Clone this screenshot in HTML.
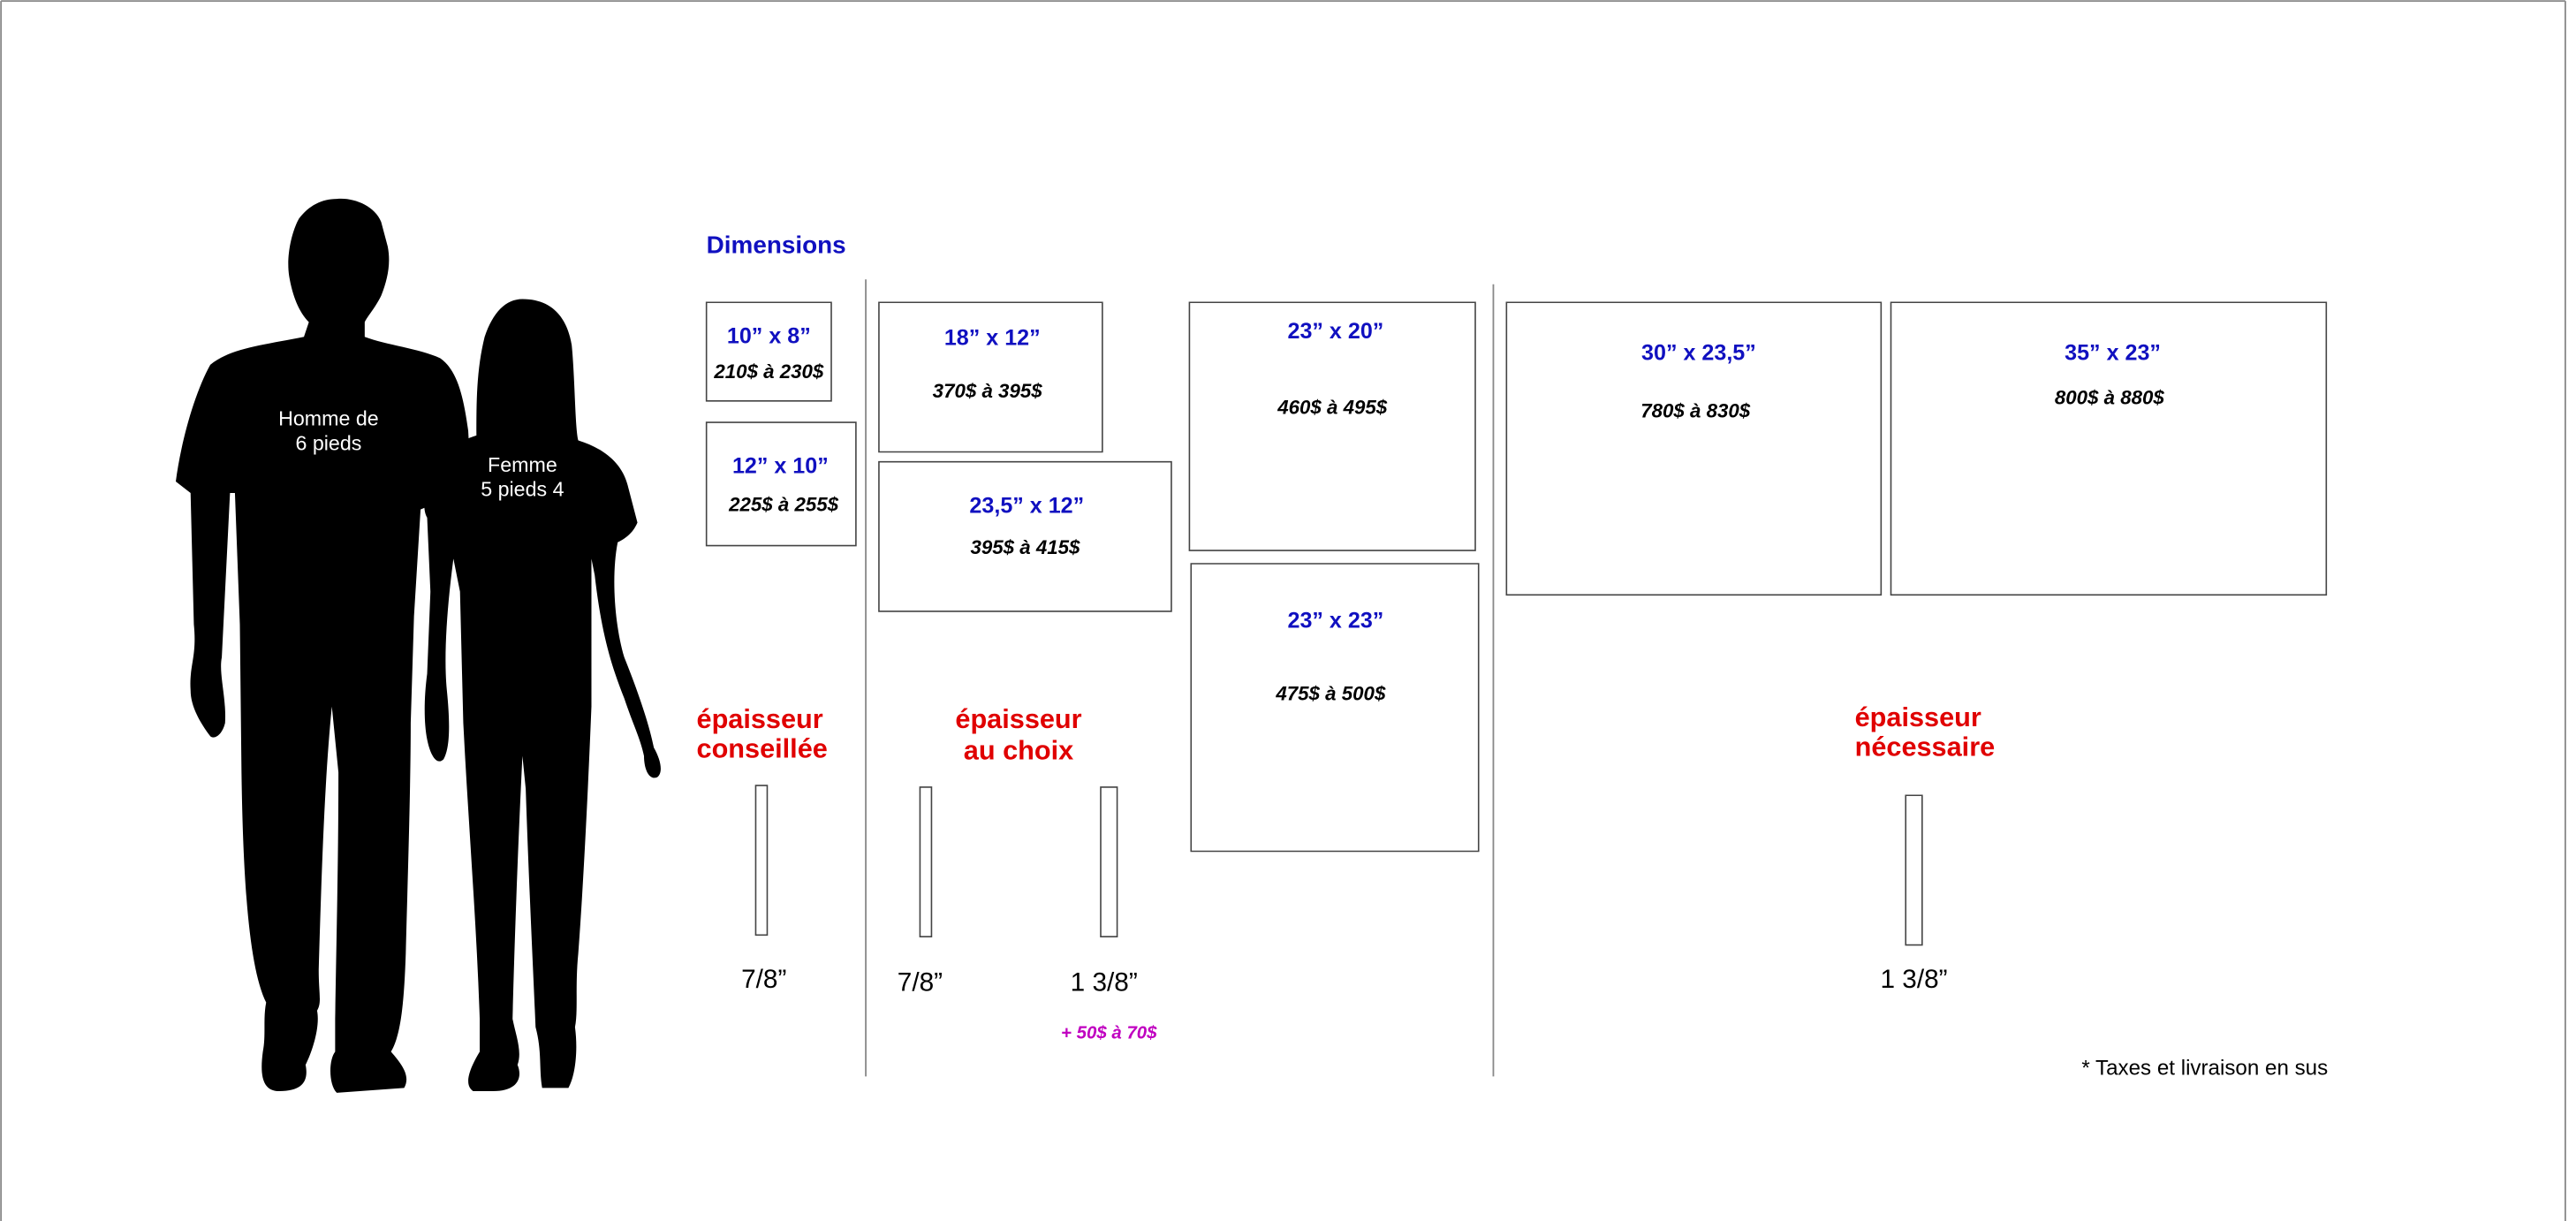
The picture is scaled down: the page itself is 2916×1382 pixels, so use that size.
<!DOCTYPE html>
<html><head><meta charset="utf-8"><style>
html,body{margin:0;padding:0;background:#fff;}
svg{display:block;}
text{font-family:"Liberation Sans",Arial,sans-serif;}
.d{fill:#1010c0;font-weight:bold;font-size:13.5px;text-anchor:middle;}
.p{fill:#000;font-weight:bold;font-style:italic;font-size:12px;text-anchor:middle;}
.r{fill:#e00000;font-weight:bold;font-size:16.5px;}
.f{fill:#000;font-size:16px;text-anchor:middle;}
.w{fill:#fff;font-size:12.5px;text-anchor:middle;}
.b{fill:#fff;stroke:#444;stroke-width:1.6;vector-effect:non-scaling-stroke;}
.l{stroke:#888;stroke-width:1.8;vector-effect:non-scaling-stroke;}
</style></head><body>
<svg width="2916" height="1382" viewBox="0 0 1568 743" preserveAspectRatio="none" xmlns="http://www.w3.org/2000/svg">
<rect x="0" y="0" width="1568" height="743" fill="#fff"/>
<line class="l" x1="0.6" y1="0.6" x2="1561.5" y2="0.6"/>
<line class="l" x1="0.6" y1="0.6" x2="0.6" y2="743"/>
<line class="l" x1="1561.5" y1="0.6" x2="1561.5" y2="743"/>

<!-- man -->
<path fill="#000" d="M205,121 C215,120 228,125 232,135 L236,150 C238,160 236,170 232,180 C228,188 224,192 222,196 L222,205 C235,210 255,212 268,218 C278,225 282,240 285,262 L287,300 L280,300 L256,310 L252,375 L250,440 C250,480 248,540 247,580 C246,610 244,630 238,640 C245,648 250,655 246,662 L205,665 C200,660 200,645 204,640 L204,620 C205,560 206,520 206,470 L202,430 C198,470 196,520 194,590 C194,605 196,610 193,615 C195,625 190,640 186,648 C188,658 184,664 170,664 C160,664 158,655 160,640 C162,630 160,620 162,610 C152,590 148,540 147,470 L146,380 L143,300 L140,300 L138,340 L135,400 C133,410 138,425 137,440 C135,448 130,450 128,448 C122,440 116,430 116,420 C115,405 120,400 118,380 L116,300 L107,293 C110,270 118,240 128,222 C140,212 160,210 185,205 L188,196 C182,190 178,180 176,168 C174,155 178,140 182,133 C188,125 196,121 205,121 Z"/>
<!-- woman -->
<path fill="#000" d="M318,182 C335,182 345,192 348,210 C350,230 350,260 352,268 C365,272 378,280 382,295 L388,318 C385,325 380,328 376,330 C372,350 374,380 380,400 C388,420 395,440 398,455 C402,462 404,470 400,473 C395,475 392,468 392,460 C390,450 385,440 380,425 C372,405 366,385 362,350 L360,340 L360,430 C358,480 355,540 352,580 C350,600 352,615 350,625 C352,640 350,655 346,662 L330,662 C328,650 330,640 326,625 C325,600 322,540 320,480 L318,460 C315,520 313,580 312,620 C314,630 318,640 315,648 C318,655 316,664 300,664 L288,664 C282,660 286,650 292,640 L292,620 C290,560 285,500 282,440 L280,360 L276,340 C272,370 270,400 272,420 C274,440 274,455 270,462 C266,466 262,460 260,450 C258,440 258,425 260,410 L262,360 L260,315 C257,310 258,300 262,290 C268,275 280,268 290,265 C290,245 290,225 295,205 C300,190 308,182 318,182 Z"/>
<text class="w" x="200" y="259">Homme de</text>
<text class="w" x="200" y="274">6 pieds</text>
<text class="w" x="318" y="287">Femme</text>
<text class="w" x="318" y="302">5 pieds 4</text>

<text x="430" y="154" style="fill:#1010c0;font-weight:bold;font-size:15px;">Dimensions</text>

<line class="l" x1="527" y1="170" x2="527" y2="655"/>
<line class="l" x1="909" y1="173" x2="909" y2="655"/>

<rect class="b" x="430" y="184" width="76" height="60"/>
<text class="d" x="468" y="209">10” x 8”</text>
<text class="p" x="468" y="230">210$ à 230$</text>

<rect class="b" x="430" y="257" width="91" height="75"/>
<text class="d" x="475" y="288">12” x 10”</text>
<text class="p" x="477" y="311">225$ à 255$</text>

<rect class="b" x="535" y="184" width="136" height="91"/>
<text class="d" x="604" y="210">18” x 12”</text>
<text class="p" x="601" y="242">370$ à 395$</text>

<rect class="b" x="535" y="281" width="178" height="91"/>
<text class="d" x="625" y="312">23,5” x 12”</text>
<text class="p" x="624" y="337">395$ à 415$</text>

<rect class="b" x="724" y="184" width="174" height="151"/>
<text class="d" x="813" y="206">23” x 20”</text>
<text class="p" x="811" y="252">460$ à 495$</text>

<rect class="b" x="725" y="343" width="175" height="175"/>
<text class="d" x="813" y="382">23” x 23”</text>
<text class="p" x="810" y="426">475$ à 500$</text>

<rect class="b" x="917" y="184" width="228" height="178"/>
<text class="d" x="1034" y="219">30” x 23,5”</text>
<text class="p" x="1032" y="254">780$ à 830$</text>

<rect class="b" x="1151" y="184" width="265" height="178"/>
<text class="d" x="1286" y="219">35” x 23”</text>
<text class="p" x="1284" y="246">800$ à 880$</text>

<text class="r" x="424" y="443">épaisseur</text>
<text class="r" x="424" y="461">conseillée</text>
<text class="r" x="620" y="443" text-anchor="middle">épaisseur</text>
<text class="r" x="620" y="462" text-anchor="middle">au choix</text>
<text class="r" x="1129" y="442">épaisseur</text>
<text class="r" x="1129" y="460">nécessaire</text>

<rect class="b" x="460" y="478" width="7" height="91"/>
<rect class="b" x="560" y="479" width="7" height="91"/>
<rect class="b" x="670" y="479" width="10" height="91"/>
<rect class="b" x="1160" y="484" width="10" height="91"/>

<text class="f" x="465" y="601">7/8”</text>
<text class="f" x="560" y="603">7/8”</text>
<text class="f" x="672" y="603">1 3/8”</text>
<text class="f" x="1165" y="601">1 3/8”</text>

<text x="675" y="632" text-anchor="middle" style="fill:#c000c0;font-weight:bold;font-style:italic;font-size:11px;">+ 50$ à 70$</text>
<text x="1417" y="654" text-anchor="end" style="fill:#000;font-size:13px;">* Taxes et livraison en sus</text>
</svg>
</body></html>
